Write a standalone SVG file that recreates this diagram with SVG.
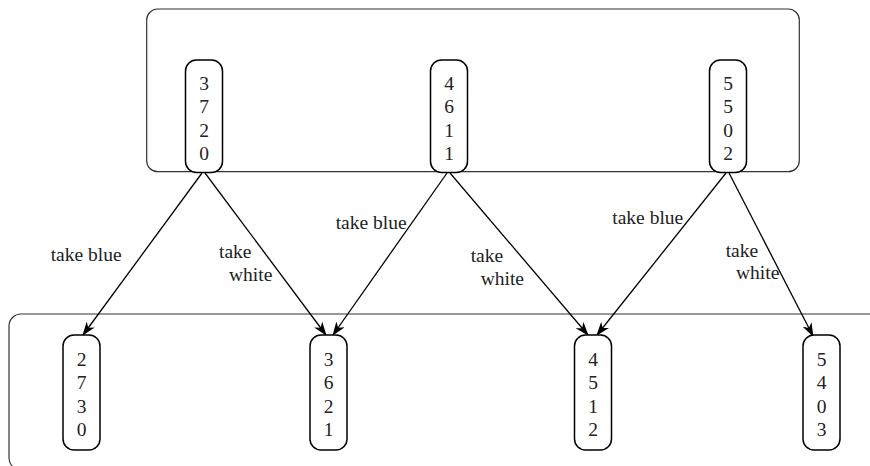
<svg xmlns="http://www.w3.org/2000/svg" width="870" height="466" viewBox="0 0 870 466">
<style>
.cont{fill:none;stroke:#333;stroke-width:1.2}
.node{fill:#fff;stroke:#000;stroke-width:1.5}
.d{font-family:"Liberation Serif","Times New Roman",serif;font-size:19.5px;fill:#222;text-anchor:middle}
.lbl{font-family:"Liberation Serif","Times New Roman",serif;font-size:19.5px;fill:#222}
.edge{stroke:#000;stroke-width:1.3;fill:none;marker-end:url(#ah)}
</style>
<defs>
<marker id="ah" viewBox="0 0 14 10" refX="13" refY="5" markerWidth="14" markerHeight="10" markerUnits="userSpaceOnUse" orient="auto">
<path d="M0,0 L14,5 L0,10 L4,5 z" fill="#000"/>
</marker>
</defs>
<g id="containers">
<rect id="top-container" class="cont" x="146.7" y="9" width="652.6" height="162.7" rx="11"/>
<rect id="bottom-container" class="cont" x="9" y="314" width="900" height="156" rx="12"/>
</g>
<g id="connectors">
<line class="edge" x1="202" y1="173" x2="83" y2="335"/>
<line class="edge" x1="205" y1="173" x2="326" y2="335"/>
<line class="edge" x1="447" y1="173" x2="333" y2="335"/>
<line class="edge" x1="450" y1="173" x2="588" y2="335"/>
<line class="edge" x1="726" y1="173" x2="597" y2="335"/>
<line class="edge" x1="729" y1="173" x2="813" y2="336"/>
</g>
<g id="labels">
<text class="lbl" x="50.7" y="260.7">take blue</text>
<text class="lbl" x="219" y="258.3">take</text>
<text class="lbl" x="229" y="280.7">white</text>
<text class="lbl" x="335.7" y="229.3">take blue</text>
<text class="lbl" x="470.7" y="262.3">take</text>
<text class="lbl" x="480.7" y="285">white</text>
<text class="lbl" x="612.3" y="224">take blue</text>
<text class="lbl" x="725.7" y="257.3">take</text>
<text class="lbl" x="736" y="279.3">white</text>
</g>
<g id="n3720">
<rect class="node" x="185.5" y="60" width="37" height="112.5" rx="11"/>
<text class="d" x="204" y="89.5">3</text><text class="d" x="204" y="113">7</text><text class="d" x="204" y="136.5">2</text><text class="d" x="204" y="160">0</text>
</g>
<g id="n4611">
<rect class="node" x="430.5" y="60" width="37" height="112.5" rx="11"/>
<text class="d" x="449" y="89.5">4</text><text class="d" x="449" y="113">6</text><text class="d" x="449" y="136.5">1</text><text class="d" x="449" y="160">1</text>
</g>
<g id="n5502">
<rect class="node" x="709.5" y="60" width="37" height="112.5" rx="11"/>
<text class="d" x="728" y="89.5">5</text><text class="d" x="728" y="113">5</text><text class="d" x="728" y="136.5">0</text><text class="d" x="728" y="160">2</text>
</g>
<g id="n2730">
<rect class="node" x="63" y="335" width="37" height="115" rx="11"/>
<text class="d" x="81.5" y="365.5">2</text><text class="d" x="81.5" y="389">7</text><text class="d" x="81.5" y="412.5">3</text><text class="d" x="81.5" y="436">0</text>
</g>
<g id="n3621">
<rect class="node" x="310" y="335" width="37" height="115" rx="11"/>
<text class="d" x="328.5" y="365.5">3</text><text class="d" x="328.5" y="389">6</text><text class="d" x="328.5" y="412.5">2</text><text class="d" x="328.5" y="436">1</text>
</g>
<g id="n4512">
<rect class="node" x="574.5" y="335" width="37" height="115" rx="11"/>
<text class="d" x="593" y="365.5">4</text><text class="d" x="593" y="389">5</text><text class="d" x="593" y="412.5">1</text><text class="d" x="593" y="436">2</text>
</g>
<g id="n5403">
<rect class="node" x="803" y="335" width="37" height="115" rx="11"/>
<text class="d" x="821.5" y="365.5">5</text><text class="d" x="821.5" y="389">4</text><text class="d" x="821.5" y="412.5">0</text><text class="d" x="821.5" y="436">3</text>
</g>
</svg>
